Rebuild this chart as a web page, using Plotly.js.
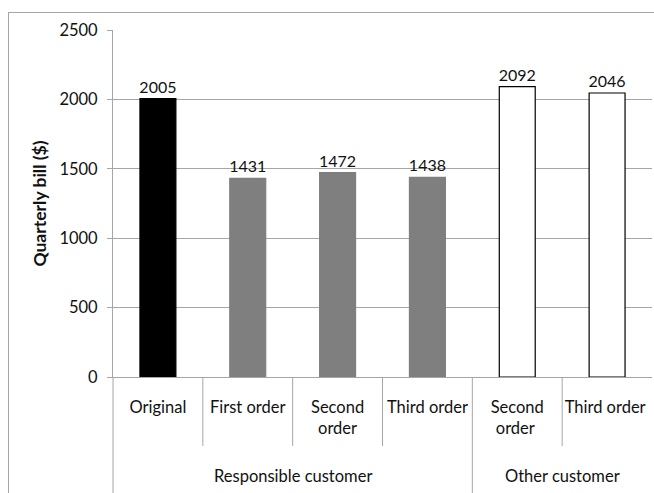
<!DOCTYPE html>
<html><head><meta charset="utf-8">
<script src="https://cdn.plot.ly/plotly-3.0.1.min.js"></script>
<style>
html,body{margin:0;padding:0;overflow:hidden;background:#fff;}
#frame{position:absolute;left:8px;top:12px;width:800px;height:600px;border:1px solid #a6a6a6;pointer-events:none;z-index:5;}
#chart{position:absolute;left:0;top:0;}
</style>
</head><body>
<div id="chart"></div>
<div id="frame"></div>
<script>
const groups = ["Responsible customer","Responsible customer","Responsible customer","Responsible customer","Other customer","Other customer"];
const categories = ["Original","First order","Second<br>order","Third order","Second<br>order ","Third order "];
const values = [2005, 1431, 1472, 1438, 2092, 2046];
const fillColors = ["#000000","#7f7f7f","#7f7f7f","#7f7f7f","#ffffff","#ffffff"];
const lineColors = ["#000000","#7f7f7f","#7f7f7f","#7f7f7f","#000000","#000000"];
const yTicks = [0,500,1000,1500,2000,2500];

const font = "Lato, 'Open Sans', sans-serif";
const W = 654, H = 493, M = {l:113, r:2, t:30, b:116};
const plotH = H - M.t - M.b;
const n = categories.length;
const gridCol = '#a6a6a6';

// category dividers and group labels, derived from the category/group arrays
const shapes = [];
const annotations = [];
let start = 0;
for (let i = 0; i <= n; i++) {
  const isGroupEdge = (i === 0) || (i < n && groups[i] !== groups[i-1]);
  if (i === n || (i > 0 && groups[i] !== groups[i-1])) {
    annotations.push({xref:'paper', yref:'paper', x:((start + i) / 2) / n, y:0,
      yshift:-99, xanchor:'center', yanchor:'middle', showarrow:false,
      text:groups[start], font:{family:font,size:16.5,color:'#111'}});
    start = i;
  }
  if (i === n) break;
  shapes.push({type:'line', xref:'paper', yref:'paper', x0:i/n, x1:i/n, y0:0,
    y1: isGroupEdge ? -(M.b + 2) / plotH : -69 / plotH,
    line:{color:gridCol, width:1}});
}

Plotly.newPlot('chart', [{
  type:'bar',
  x:categories,
  y:values,
  text:values.map(String),
  textposition:'outside',
  constraintext:'none',
  cliponaxis:false,
  textfont:{family:font,size:16,color:'#111'},
  marker:{color:fillColors,line:{color:lineColors,width:1.2}},
  hoverinfo:'none'
}], {
  width:W, height:H,
  margin:M,
  paper_bgcolor:'rgba(0,0,0,0)', plot_bgcolor:'#fff',
  bargap:0.6,
  showlegend:false,
  font:{family:font,size:16.5,color:'#111'},
  shapes:shapes,
  annotations:annotations,
  xaxis:{type:'category', showline:true, linecolor:gridCol, linewidth:1,
    ticks:'', ticklabelstandoff:15, showgrid:false,
    tickfont:{family:font,size:16.5,color:'#111'}},
  yaxis:{range:[0,2500], tickvals:yTicks, ticktext:yTicks.map(String),
    showgrid:true, gridcolor:gridCol, gridwidth:1,
    showline:true, linecolor:gridCol, ticks:'outside', ticklen:5, tickcolor:gridCol,
    ticklabelstandoff:6,
    zeroline:false, tickfont:{family:font,size:16.5,color:'#111'},
    title:{text:'<b>Quarterly bill ($)</b>', font:{family:font,size:17.5,color:'#111'}, standoff:8}}
}, {displayModeBar:false, staticPlot:true});
</script>
</body></html>
